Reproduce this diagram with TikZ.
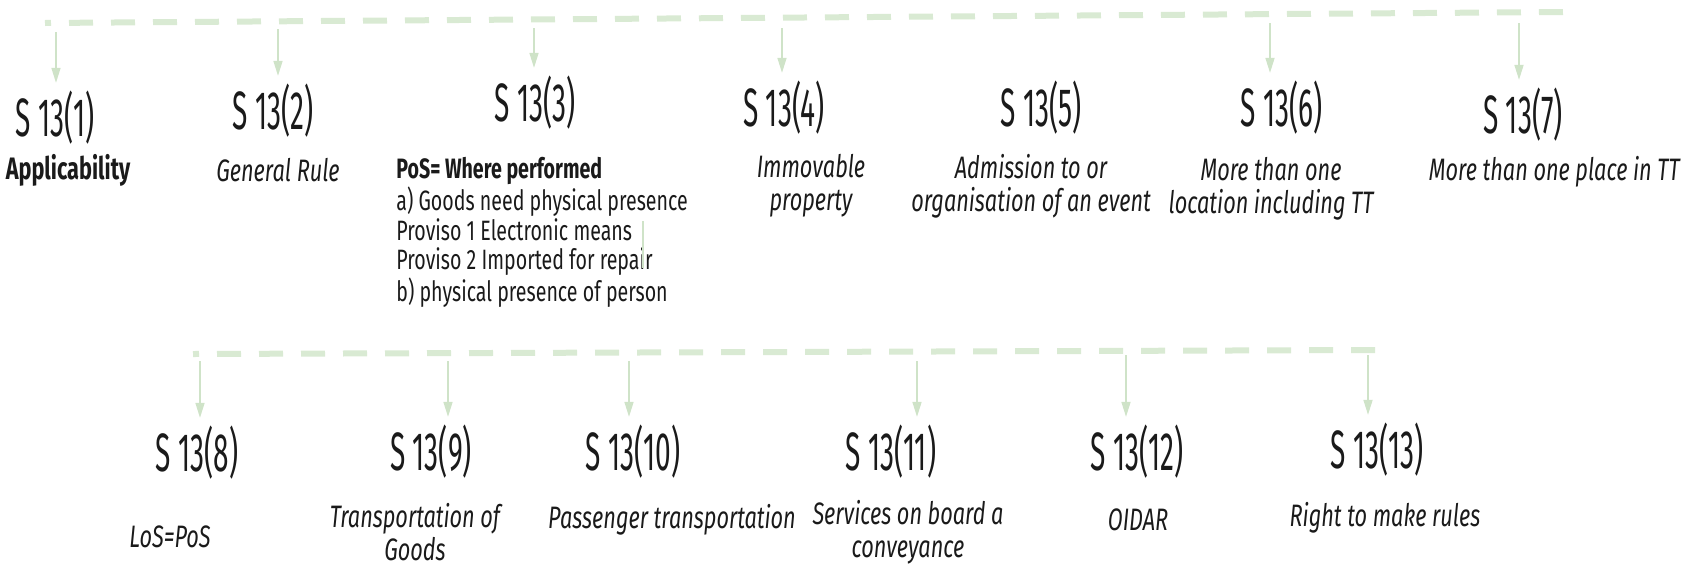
\documentclass[tikz,border=0pt]{standalone}
\usepackage{fontspec}
\setmainfont[FakeStretch=0.7]{Fira Sans}
\newfontfamily\secfont[FakeStretch=0.52]{Fira Sans}
\usetikzlibrary{positioning, calc, arrows.meta}

\definecolor{railgreen}{HTML}{D9EAD3}
\definecolor{dropgreen}{HTML}{CFE3C8}
\definecolor{inkgray}{HTML}{1A1A1A}

\tikzset{
	rail/.style={railgreen, line width=3pt, dash pattern=on 12pt off 9pt, dash phase=9pt},
	drop/.style={dropgreen, line width=0.8pt, -{Triangle[width=4.5pt, length=7.5pt]}, shorten >=3pt},
	sec/.style={inkgray, font=\secfont\fontsize{27}{30}\selectfont, inner sep=1pt},
	lbl/.style={inkgray, font=\fontsize{15.5}{16.5}\selectfont\itshape, align=center, inner sep=0pt}
}

\begin{document}
\begin{tikzpicture}[x=0.5pt, y=-0.5pt]
	\useasboundingbox (0,0) rectangle (1684,568);

	% top row
	\draw[rail] (45,23) -- (1563,12);
	\node[sec] (s1) at (55,118) {S 13(1)};
	\node[sec] (s2) at (273,111) {S 13(2)};
	\node[sec] (s3) at (535,103) {S 13(3)};
	\node[sec] (s4) at (784,108) {S 13(4)};
	\node[sec] (s5) at (1041,108) {S 13(5)};
	\node[sec] (s6) at (1282,108) {S 13(6)};
	\node[sec] (s7) at (1523,115) {S 13(7)};

	\node[lbl, font=\fontsize{15.5}{17}\selectfont\bfseries] (l1) at (68,170) {Applicability};
	\node[lbl] (l2) at (278,170) {General Rule};
	\node[inkgray, font=\fontsize{14}{14.75}\selectfont, align=left, anchor=north west, inner sep=0pt] (l3) at (396,157)
		{\textbf{PoS= Where performed}\\a) Goods need physical presence\\Proviso 1 Electronic means\\Proviso 2 Imported for repair\\b) physical presence of person};
	\node[lbl] (l4) at (811,186) {Immovable\\property};
	\node[lbl] (l5) at (1031,186) {Admission to or\\organisation of an event};
	\node[lbl] (l6) at (1271,189) {More than one\\location including TT};
	\node[lbl, anchor=east] (l7) at (1680,172) {More than one place in TT};

	\coordinate (t1) at (56,32);
	\coordinate (t2) at (278,29);
	\coordinate (t3) at (534,28);
	\coordinate (t4) at (782,28);
	\coordinate (t6) at (1270,23);
	\coordinate (t7) at (1519,23);
	\foreach \t/\s in {t1/s1, t2/s2, t3/s3, t4/s4, t6/s6, t7/s7} {
		\draw[drop] (\t) -- (\t |- \s.north);
	}
	\coordinate (stray1) at (643,221);
	\coordinate (stray2) at (643,268);
	\draw[dropgreen, line width=0.6pt] (stray1) -- (stray2);

	% bottom row
	\draw[rail] (193,354) -- (1378,350);
	\node[sec] (b8) at (197,453) {S 13(8)};
	\node[sec] (b9) at (431,452) {S 13(9)};
	\node[sec] (b10) at (633,452) {S 13(10)};
	\node[sec] (b11) at (891,452) {S 13(11)};
	\node[sec] (b12) at (1137,452) {S 13(12)};
	\node[sec] (b13) at (1377,450) {S 13(13)};

	\node[lbl] (m8) at (170,537) {LoS=PoS};
	\node[lbl] (m9) at (415,532) {Transportation of\\Goods};
	\node[lbl] (m10) at (672,520) {Passenger transportation};
	\node[lbl] (m11) at (908,532) {Services on board a\\conveyance};
	\node[lbl] (m12) at (1138,520) {OIDAR};
	\node[lbl] (m13) at (1385,518) {Right to make rules};

	\coordinate (u8) at (200,361);
	\coordinate (u9) at (448,361);
	\coordinate (u10) at (629,361);
	\coordinate (u11) at (917,361);
	\coordinate (u12) at (1126,355);
	\coordinate (u13) at (1368,355);
	\foreach \t/\s in {u8/b8, u9/b9, u10/b10, u11/b11, u12/b12, u13/b13} {
		\draw[drop] (\t) -- (\t |- \s.north);
	}
\end{tikzpicture}
\end{document}
